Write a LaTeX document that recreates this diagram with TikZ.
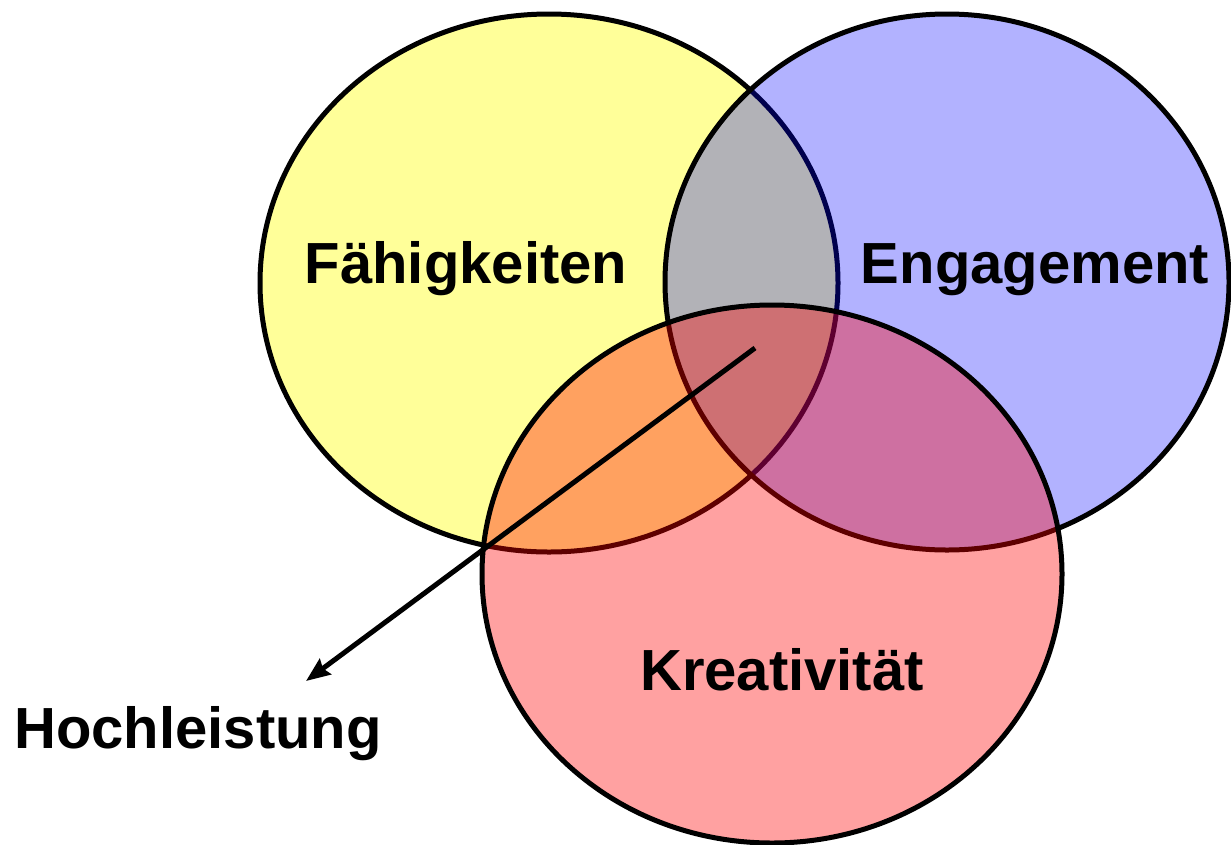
\documentclass[tikz,border=0pt]{standalone}
\usepackage{fontspec}
\setmainfont{Liberation Sans}
\usetikzlibrary{arrows.meta}
\tikzset{
  setring/.style={line width=5pt, draw=black},
  setlabel/.style={anchor=base, font=\fontsize{58}{70}\selectfont\bfseries, inner sep=0pt},
  pointer/.style={line width=5pt, -{Stealth[length=24pt,width=19pt,inset=3pt]}}
}
\begin{document}
\begin{tikzpicture}[x=1pt,y=-1pt]
\useasboundingbox (0,0) rectangle (1231,844);
\fill[white] (0,0) rectangle (1231,844);
% Faehigkeiten
\filldraw[setring, fill={rgb,255:red,255;green,255;blue,153}] (549,283) ellipse [x radius=289pt, y radius=269pt];
% Engagement
\fill[blue, fill opacity=0.3] (947,282) ellipse [x radius=282pt, y radius=268pt];
\draw[setring] (947,282) ellipse [x radius=282pt, y radius=268pt];
% Kreativitaet
\fill[red, fill opacity=0.37] (772,574) ellipse [x radius=290pt, y radius=269pt];
\draw[setring] (772,574) ellipse [x radius=290pt, y radius=269pt];
% labels
\node[setlabel] (f) at (466,283) {Fähigkeiten};
\node[setlabel] (e) at (1035,283) {Engagement};
\node[setlabel] (k) at (782,690) {Kreativität};
\node[setlabel] (h) at (198,748) {Hochleistung};
% arrow
\coordinate (core) at (755,348);
\coordinate (tip) at (306,681);
\draw[pointer] (core) -- (tip);
\end{tikzpicture}
\end{document}
